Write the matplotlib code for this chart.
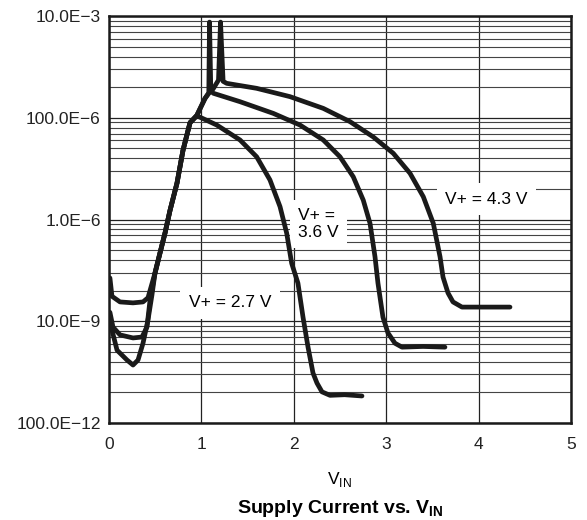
import matplotlib
matplotlib.use("Agg")
import matplotlib.pyplot as plt

plt.rcParams['font.family'] = ['Liberation Sans', 'DejaVu Sans']
plt.rcParams['mathtext.fontset'] = 'custom'
plt.rcParams['mathtext.rm'] = 'Liberation Sans'
plt.rcParams['mathtext.bf'] = 'Liberation Sans:bold'

# supply current (A) vs input voltage (V)
x_27 = [0.01, 0.087, 0.195, 0.26, 0.314, 0.368, 0.422, 0.465, 0.498, 0.552, 0.606, 0.66,
        0.736, 0.801, 0.877, 0.949, 1.166, 1.418, 1.598, 1.742, 1.851, 1.923, 1.977, 2.045,
        2.1, 2.154, 2.208, 2.251, 2.305, 2.392, 2.55, 2.738]
i_27 = [9.7e-9, 2.7e-9, 1.73e-9, 1.38e-9, 1.73e-9, 3.7e-9, 1.06e-8, 3.3e-8, 8.9e-8, 2.2e-7,
        5.4e-7, 1.5e-6, 5.2e-6, 2.3e-5, 8.0e-5, 1.1e-4, 7.2e-5, 3.66e-5, 1.71e-5, 6.0e-6,
        1.79e-6, 5.4e-7, 1.38e-7, 5.6e-8, 1.2e-8, 3.1e-9, 9.6e-10, 6.1e-10, 4.1e-10, 3.5e-10,
        3.6e-10, 3.4e-10]

x_36 = [0.01, 0.043, 0.119, 0.26, 0.357, 0.411, 0.444, 0.498, 0.552, 0.606, 0.66, 0.736,
        0.801, 0.877, 0.949, 1.039, 1.08, 1.088, 1.102, 1.129, 1.418, 1.778, 2.067, 2.319,
        2.5, 2.644, 2.752, 2.825, 2.879, 2.911, 2.965, 3.019, 3.095, 3.171, 3.4, 3.636]
i_36 = [1.5e-8, 7.7e-9, 5.4e-9, 4.7e-9, 4.9e-9, 7.7e-9, 2.6e-8, 8.9e-8, 2.2e-7, 5.4e-7,
        1.5e-6, 5.2e-6, 2.3e-5, 8.0e-5, 1.1e-4, 2.4e-4, 3.1e-4, 7.6e-3, 3.4e-4, 3.03e-4,
        2.07e-4, 1.22e-4, 7.2e-5, 3.66e-5, 1.71e-5, 6.9e-6, 2.4e-6, 8.4e-7, 1.85e-7, 5.6e-8,
        1.2e-8, 5.9e-9, 3.7e-9, 3.1e-9, 3.2e-9, 3.1e-9]

x_43 = [0.01, 0.032, 0.119, 0.26, 0.368, 0.422, 0.498, 0.552, 0.606, 0.66, 0.736, 0.801,
        0.877, 0.949, 1.039, 1.093, 1.126, 1.185, 1.207, 1.235, 1.274, 1.598, 1.959, 2.319,
        2.608, 2.86, 3.077, 3.258, 3.402, 3.51, 3.583, 3.615, 3.669, 3.723, 3.82, 4.34]
i_43 = [7.1e-8, 3.1e-8, 2.4e-8, 2.3e-8, 2.4e-8, 2.9e-8, 8.9e-8, 2.2e-7, 5.4e-7, 1.5e-6,
        5.2e-6, 2.3e-5, 8.0e-5, 1.1e-4, 2.4e-4, 3.25e-4, 3.67e-4, 5.5e-4, 7.6e-3, 5.2e-4,
        4.75e-4, 3.79e-4, 2.6e-4, 1.53e-4, 8.4e-5, 4.2e-5, 2.0e-5, 8.1e-6, 2.8e-6, 8.4e-7,
        1.85e-7, 7.4e-8, 3.6e-8, 2.4e-8, 1.9e-8, 1.9e-8]

y_ticks = [1e-10, 1e-8, 1e-6, 1e-4, 1e-2]
y_labels = ['100.0E\u221212', '10.0E\u22129', '1.0E\u22126', '100.0E\u22126', '10.0E\u22123']

fig = plt.figure(figsize=(5.87, 5.20), dpi=100)
ax = fig.add_axes([0.1857, 0.1865, 0.7870, 0.7827])

for xs, ys in [(x_27, i_27), (x_36, i_36), (x_43, i_43)]:
    ax.plot(xs, ys, color='#1a1a1a', lw=3.4, solid_joinstyle='round', solid_capstyle='round', zorder=3)

ax.set_yscale('log')
ax.set_xlim(0, 5)
ax.set_ylim(1e-10, 1e-2)
ax.set_xticks([0, 1, 2, 3, 4, 5])
ax.set_yticks(y_ticks)
ax.set_yticklabels(y_labels)
# grid of the original: one log cycle per labelled step of 100x
minor = [b * m * m for b in y_ticks[:-1] for m in range(2, 10)]
ax.set_yticks(minor, minor=True)
ax.yaxis.set_minor_formatter(matplotlib.ticker.NullFormatter())
ax.tick_params(which='both', length=0, labelsize=12.5, colors='#222222')
ax.tick_params(axis='y', pad=6)
ax.tick_params(axis='x', pad=10)
ax.grid(which='major', color='#222222', lw=0.9, zorder=1)
ax.grid(which='minor', axis='y', color='#444444', lw=0.8, zorder=1)
ax.set_axisbelow(True)
for s in ax.spines.values():
    s.set_linewidth(1.8)
    s.set_color('#1a1a1a')

box = dict(facecolor='white', edgecolor='none', pad=6)
ax.text(1.31, 2.3e-8, 'V+ = 2.7 V', fontsize=12.5, ha='center', va='center', bbox=box, zorder=2.5)
ax.text(2.05, 8.1e-7, 'V+ =\n3.6 V', fontsize=12.5, ha='left', va='center', linespacing=1.15,
        bbox=box, zorder=2.5)
ax.text(4.085, 2.5e-6, 'V+ = 4.3 V', fontsize=12.5, ha='center', va='center', bbox=box, zorder=2.5)

fig.text(0.579, 0.077, r'V$_{\mathrm{IN}}$', fontsize=12.5, ha='center', va='center')
fig.text(0.579, 0.023, r'Supply Current vs. V$_{\mathbf{IN}}$', fontsize=14,
         fontweight='bold', ha='center', va='center')

fig.savefig('out.png', dpi=100)
